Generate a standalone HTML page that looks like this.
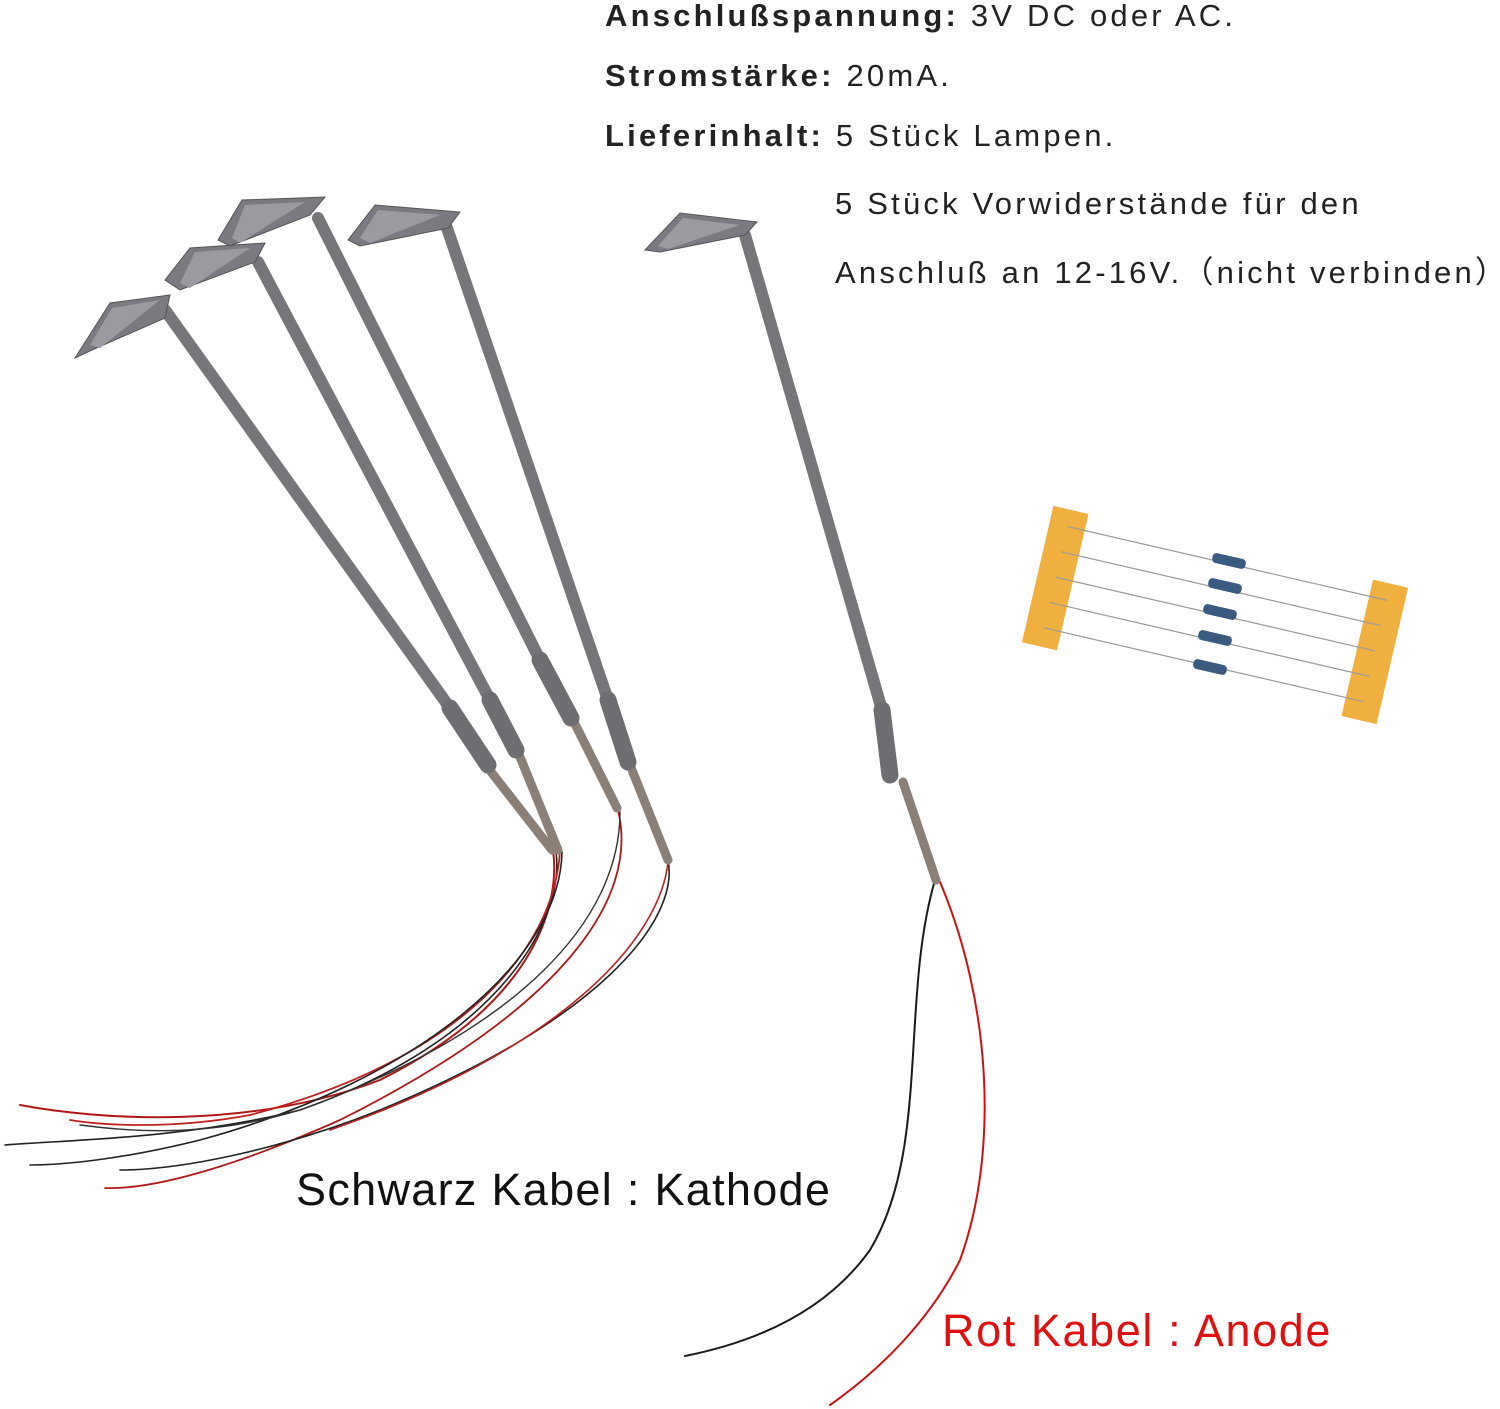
<!DOCTYPE html>
<html><head><meta charset="utf-8"><style>
body{margin:0;background:#fff;}
.w{position:relative;width:1500px;height:1409px;overflow:hidden;background:#fff;font-family:"Liberation Sans","Noto Sans CJK SC",sans-serif;}
.t{position:absolute;font-size:31px;letter-spacing:3.2px;color:#222;white-space:nowrap;}
.t b{font-weight:bold;}
</style></head><body><div class="w">
<svg width="1500" height="1409" style="position:absolute;left:0;top:0">
<g fill="none" stroke-linecap="round">
<path d="M553 850 C560 900 540 1000 380 1080 C250 1130 100 1120 20 1105" stroke="#b01818" stroke-width="2"/>
<path d="M556 852 C565 920 500 1040 300 1110 C180 1140 60 1140 5 1145" stroke="#222" stroke-width="1.6"/>
<path d="M560 850 C555 950 460 1060 250 1115 C170 1130 100 1125 70 1120" stroke="#c02020" stroke-width="1.8"/>
<path d="M562 852 C560 960 420 1080 200 1140 C120 1160 60 1165 30 1165" stroke="#222" stroke-width="1.6"/>
<path d="M618 810 C640 900 560 1010 340 1120 C250 1160 160 1190 105 1188" stroke="#b01818" stroke-width="1.8"/>
<path d="M620 812 C620 920 520 1030 300 1110 C200 1140 120 1130 80 1125" stroke="#333" stroke-width="1.4"/>
<path d="M668 860 C680 920 600 1020 380 1110 C280 1150 180 1170 120 1170" stroke="#222" stroke-width="1.6"/>
<path d="M668 862 C660 940 560 1050 330 1130" stroke="#c02020" stroke-width="1.6"/>
<path d="M935 880 C900 1000 930 1150 870 1250 C820 1320 740 1345 685 1356" stroke="#1a1a1a" stroke-width="2"/>
<path d="M940 882 C990 1000 1000 1150 960 1260 C930 1320 880 1370 830 1405" stroke="#d01010" stroke-width="2"/>
</g>
<g>
<g stroke="#8a8078" stroke-width="9" stroke-linecap="round">
<line x1="488" y1="768" x2="552" y2="850"/>
<line x1="518" y1="752" x2="558" y2="850"/>
<line x1="573" y1="720" x2="617" y2="808"/>
<line x1="630" y1="765" x2="668" y2="860"/>
<line x1="903" y1="782" x2="936" y2="880"/>
</g>
<g stroke="#76767a" stroke-width="12" stroke-linecap="round">
<line x1="165" y1="310" x2="450" y2="708"/>
<line x1="258" y1="262" x2="490" y2="700"/>
<line x1="318" y1="218" x2="540" y2="660"/>
<line x1="447" y1="228" x2="608" y2="700"/>
<line x1="745" y1="235" x2="882" y2="710"/>
</g>
<g stroke="#6e6e72" stroke-width="17" stroke-linecap="round">
<line x1="450" y1="708" x2="488" y2="765"/>
<line x1="490" y1="700" x2="516" y2="750"/>
<line x1="540" y1="660" x2="571" y2="718"/>
<line x1="608" y1="700" x2="628" y2="762"/>
<line x1="882" y1="710" x2="890" y2="775"/>
</g>
<g fill="#7a7a80" stroke="#555" stroke-width="1">
<polygon points="75,358 110,303 170,295 165,318 92,350"/>
<polygon points="165,280 190,248 265,243 255,262 180,290"/>
<polygon points="218,240 242,200 325,197 310,215 230,246"/>
<polygon points="348,240 375,205 460,212 448,228 360,246"/>
<polygon points="645,250 680,213 757,222 745,235 660,252"/>
</g>
<g fill="#9a9aa0">
<polygon points="90,345 112,308 160,300 100,348"/>
<polygon points="180,283 195,252 250,248 190,288"/>
<polygon points="232,238 245,205 305,202 240,243"/>
<polygon points="360,238 378,210 440,215 370,243"/>
<polygon points="658,246 683,218 740,225 668,249"/>
</g>
</g>
<g transform="rotate(13 1215 615)">
<rect x="1033" y="545" width="36" height="140" fill="#f0b040"/>
<rect x="1361" y="545" width="36" height="140" fill="#f0b040"/>
<g stroke="#999" stroke-width="1.2">
<line x1="1051" y1="562" x2="1379" y2="562"/>
<line x1="1051" y1="588" x2="1379" y2="588"/>
<line x1="1051" y1="614" x2="1379" y2="614"/>
<line x1="1051" y1="640" x2="1379" y2="640"/>
<line x1="1051" y1="666" x2="1379" y2="666"/>
</g>
</g>
<g fill="#3a5a80">
<rect x="1212" y="556" width="34" height="10" rx="4" transform="rotate(13 1229 561)"/>
<rect x="1208" y="581" width="34" height="10" rx="4" transform="rotate(13 1225 586)"/>
<rect x="1203" y="607" width="34" height="10" rx="4" transform="rotate(13 1220 612)"/>
<rect x="1198" y="633" width="34" height="10" rx="4" transform="rotate(13 1215 638)"/>
<rect x="1193" y="662" width="34" height="10" rx="4" transform="rotate(13 1210 667)"/>
</g>
</svg>
<div class="t" style="left:605px;top:-2px"><b>Anschlußspannung:</b> 3V DC oder AC.</div>
<div class="t" style="left:605px;top:58px"><b>Stromstärke:</b> 20mA.</div>
<div class="t" style="left:605px;top:118px"><b>Lieferinhalt:</b> 5 Stück Lampen.</div>
<div class="t" style="left:835px;top:186px">5 Stück Vorwiderstände für den</div>
<div class="t" style="left:835px;top:247px">Anschluß an 12-16V.（nicht verbinden）</div>
<div style="position:absolute;left:296px;top:1164px;font-size:45px;letter-spacing:1.3px;color:#111;white-space:nowrap">Schwarz Kabel : Kathode</div>
<div style="position:absolute;left:942px;top:1305px;font-size:45px;letter-spacing:1.6px;color:#e01010;white-space:nowrap">Rot Kabel : Anode</div>
</div></body></html>
